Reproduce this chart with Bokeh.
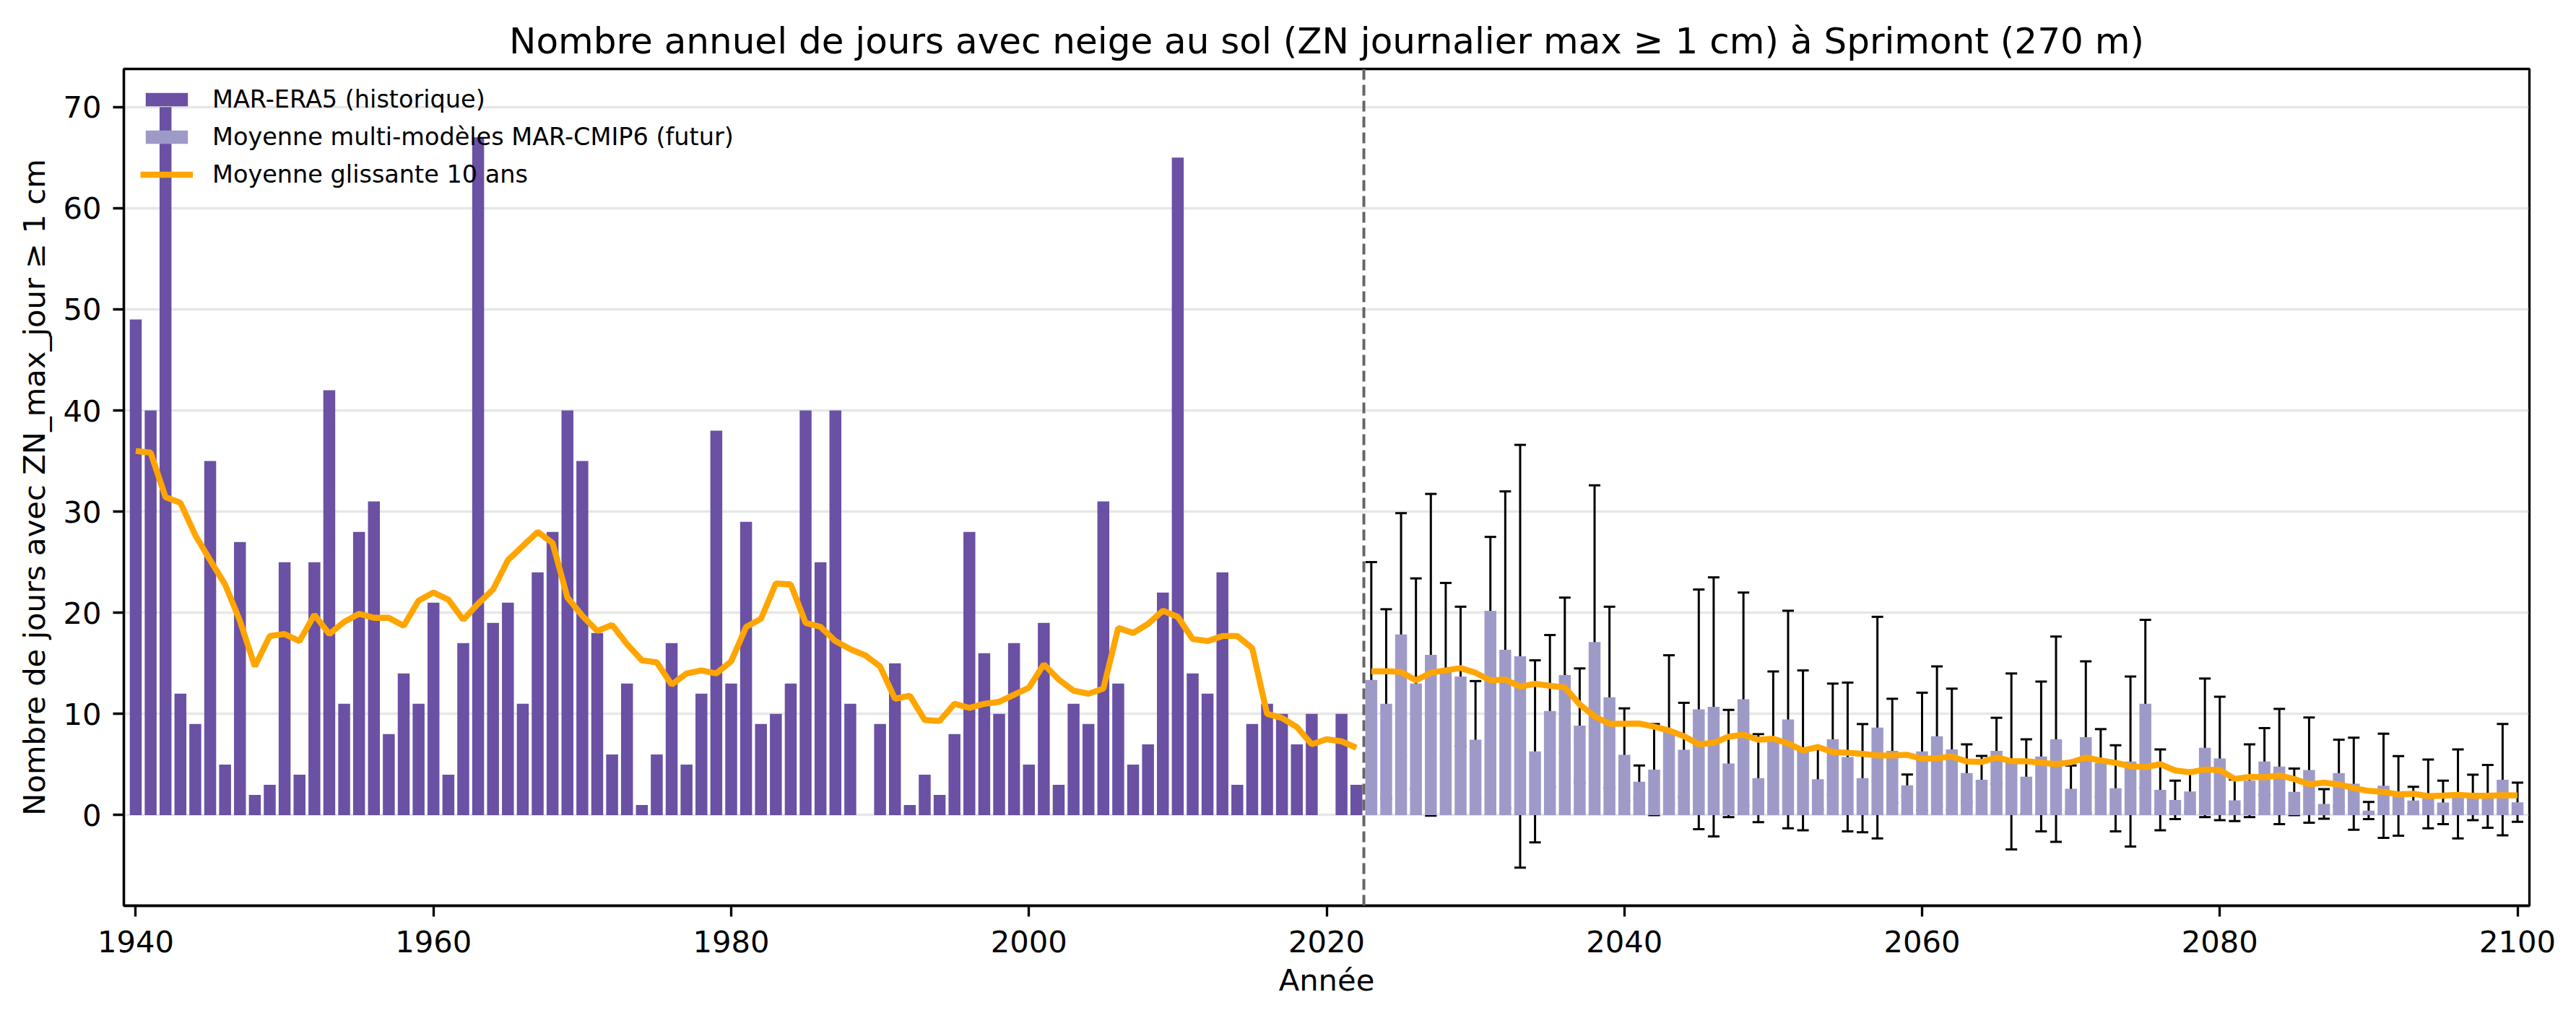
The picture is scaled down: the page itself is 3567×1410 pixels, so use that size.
import pandas as pd
from bokeh.plotting import figure
from bokeh.models import (ColumnDataSource, Whisker, TeeHead, Span, Legend, LegendItem,
                          FixedTicker, Range1d)
from bokeh.embed import file_html
from bokeh.resources import INLINE

# ---------------- data ----------------
hist_years = list(range(1940, 2023))
hist_days = [49, 40, 70, 12, 9, 35, 5, 27, 2, 3,
             25, 4, 25, 42, 11, 28, 31, 8, 14, 11,
             21, 4, 17, 67, 19, 21, 11, 24, 28, 40,
             35, 18, 6, 13, 1, 6, 17, 5, 12, 38,
             13, 29, 9, 10, 13, 40, 25, 40, 11, 0,
             9, 15, 1, 4, 2, 8, 28, 16, 10, 17,
             5, 19, 3, 11, 9, 31, 13, 5, 7, 22,
             65, 14, 12, 24, 3, 9, 11, 10, 7, 10,
             0, 10, 3]

fut_years = list(range(2023, 2101))
fut_mean = [13.36, 11.0, 17.85, 13.0, 15.85, 14.3, 13.7, 7.45, 20.2, 16.35,
            15.7, 6.3, 10.3, 13.85, 8.85, 17.1, 11.65, 5.95, 3.3, 4.5,
            8.45, 6.45, 10.45, 10.7, 5.1, 11.45, 3.65, 7.3, 9.45, 6.4,
            3.55, 7.5, 5.75, 3.65, 8.65, 6.35, 2.95, 6.3, 7.8, 6.5,
            4.15, 3.5, 6.35, 5.3, 3.8, 5.8, 7.5, 2.6, 7.7, 5.15,
            2.65, 5.3, 11.0, 2.5, 1.5, 2.33, 6.65, 5.6, 1.46, 3.4,
            5.3, 4.8, 2.3, 4.45, 1.1, 4.15, 3.1, 0.45, 2.9, 1.9,
            1.45, 2.1, 1.25, 2.1, 1.75, 1.85, 3.5, 1.27]
fut_std = [11.65, 9.35, 12.0, 10.4, 15.9, 8.65, 6.9, 5.8, 7.3, 15.65,
           20.9, 9.0, 7.5, 7.65, 5.65, 15.5, 8.95, 4.6, 1.6, 4.5,
           7.35, 4.65, 11.85, 12.8, 5.3, 10.55, 4.35, 6.9, 10.75, 7.9,
           3.0, 5.5, 7.35, 5.35, 10.95, 5.15, 1.07, 5.8, 6.9, 6.0,
           2.85, 2.35, 3.27, 8.7, 3.7, 7.4, 10.15, 2.3, 7.5, 3.35,
           4.25, 8.4, 8.3, 4.0, 1.9, 2.0, 6.85, 6.1, 2.06, 3.6,
           3.3, 5.7, 2.3, 5.2, 1.46, 3.3, 4.55, 0.85, 5.15, 3.94,
           1.35, 3.4, 2.15, 4.4, 2.25, 3.1, 5.5, 1.93]

x_ticks = [1940, 1960, 1980, 2000, 2020, 2040, 2060, 2080, 2100]
y_ticks = [0, 10, 20, 30, 40, 50, 60, 70]
split_year = 2022.5

# 10-year centred rolling means of the two series (as in the original chart)
hist_roll = pd.Series(hist_days, dtype=float).rolling(10, center=True, min_periods=1).mean().tolist()
fut_roll = pd.Series(fut_mean, dtype=float).rolling(10, center=True, min_periods=1).mean().tolist()

HIST_COLOR = "#6a51a3"
FUT_COLOR = "#9e9ac8"
ORANGE = "#ffa500"
FONT = "DejaVu Sans"

src_h = ColumnDataSource(dict(x=hist_years, top=hist_days, roll=hist_roll))
src_f = ColumnDataSource(dict(
    x=fut_years, top=fut_mean, roll=fut_roll,
    upper=[m + s for m, s in zip(fut_mean, fut_std)],
    lower=[m - s for m, s in zip(fut_mean, fut_std)],
))

p = figure(width=3551, height=1394, output_backend="svg", toolbar_location=None,
           x_range=Range1d(1939.2, 2100.8), y_range=Range1d(-8.96, 73.76),
           min_border_left=171, min_border_right=49, min_border_top=95, min_border_bottom=140)

p.title.text = "Nombre annuel de jours avec neige au sol (ZN journalier max \u2265 1 cm) \u00e0 Sprimont (270 m)"
p.title.text_font = FONT
p.title.text_font_size = "50px"
p.title.text_font_style = "normal"
p.title.text_color = "black"
p.title.align = "center"
p.title.standoff = 20

r_h = p.vbar(x="x", top="top", width=0.8, bottom=0, source=src_h,
             fill_color=HIST_COLOR, line_color=None)
r_f = p.vbar(x="x", top="top", width=0.8, bottom=0, source=src_f,
             fill_color=FUT_COLOR, line_color=None)

wh = Whisker(source=src_f, base="x", upper="upper", lower="lower", dimension="height",
             line_color="black", line_width=3,
             upper_head=TeeHead(size=16, line_color="black", line_width=3),
             lower_head=TeeHead(size=16, line_color="black", line_width=3))
p.add_layout(wh)

p.add_layout(Span(location=split_year, dimension="height", line_color="#666666",
                  line_width=4, line_dash="15 7"))

r_lh = p.line(x="x", y="roll", source=src_h, line_color=ORANGE, line_width=8.3)
r_lf = p.line(x="x", y="roll", source=src_f, line_color=ORANGE, line_width=8.3)

legend = Legend(items=[
    LegendItem(label="MAR-ERA5 (historique)", renderers=[r_h]),
    LegendItem(label="Moyenne multi-mod\u00e8les MAR-CMIP6 (futur)", renderers=[r_f]),
    LegendItem(label="Moyenne glissante 10 ans", renderers=[r_lh]),
], location="top_left")
legend.background_fill_alpha = 0
legend.border_line_alpha = 0
legend.label_text_font = FONT
legend.label_text_font_size = "33.5px"
legend.label_text_color = "black"
legend.glyph_width = 73
legend.glyph_height = 23
legend.label_standoff = 27
legend.spacing = 13
legend.padding = 0
legend.margin = 23
p.add_layout(legend, "center")

# axes styling
for ax in (p.xaxis[0], p.yaxis[0]):
    ax.axis_line_color = "black"
    ax.axis_line_width = 3.3
    ax.major_tick_line_color = "black"
    ax.major_tick_line_width = 3.3
    ax.major_tick_out = 15
    ax.major_tick_in = 0
    ax.minor_tick_line_color = None
    ax.major_label_text_font = FONT
    ax.major_label_text_font_size = "41.7px"
    ax.major_label_text_color = "black"
    ax.axis_label_text_font = FONT
    ax.axis_label_text_font_size = "41.7px"
    ax.axis_label_text_font_style = "normal"
    ax.axis_label_text_color = "black"

p.xaxis.ticker = FixedTicker(ticks=x_ticks)
p.yaxis.ticker = FixedTicker(ticks=y_ticks)
p.xaxis.axis_label = "Ann\u00e9e"
p.yaxis.axis_label = "Nombre de jours avec ZN_max_jour \u2265 1 cm"
p.xaxis.major_label_standoff = 19
p.yaxis.major_label_standoff = 16
p.xaxis.axis_label_standoff = 11
p.yaxis.axis_label_standoff = 12

p.xgrid.grid_line_color = None
p.ygrid.grid_line_color = "#b0b0b0"
p.ygrid.grid_line_alpha = 0.3
p.ygrid.grid_line_width = 3.3

p.outline_line_color = "black"
p.outline_line_width = 3.3
p.outline_line_alpha = 1.0
p.background_fill_color = "white"
p.border_fill_color = "white"

open("out.html", "w").write(file_html(p, INLINE))
